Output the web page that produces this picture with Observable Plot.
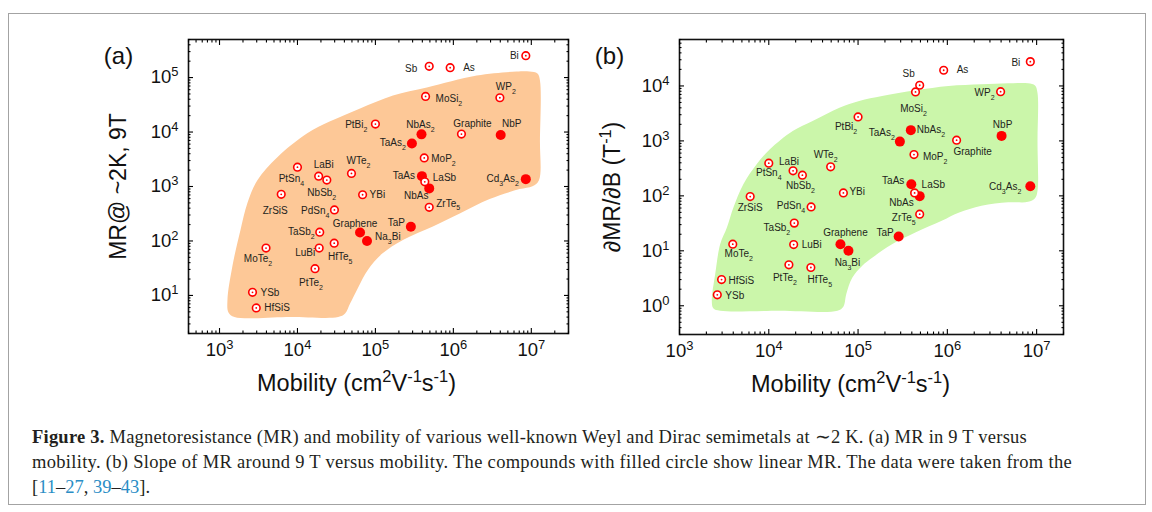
<!DOCTYPE html>
<html><head><meta charset="utf-8">
<script src="https://cdn.jsdelivr.net/npm/d3@7"></script>
<script src="https://cdn.jsdelivr.net/npm/@observablehq/plot@0.6"></script>
<style>
html,body{margin:0;padding:0;background:#fff}
body{width:1152px;height:512px;overflow:hidden;position:relative;font-family:"Liberation Sans",Arial,sans-serif}
#border{position:absolute;left:8px;top:13px;width:1138px;height:492px;box-sizing:border-box;border:1.5px solid #a3a3a3}
#pa{position:absolute;left:88px;top:25px}
#pb{position:absolute;left:578px;top:25px}
#cap{position:absolute;left:32px;top:425px;font-family:"Liberation Serif","Times New Roman",serif;font-size:18.5px;line-height:25px;color:#231f20}
#cap .ln{white-space:nowrap}
#cap .ref{color:#2a8dc5}
</style></head><body>
<div id="border"></div>
<div id="pa"></div>
<div id="pb"></div>
<div id="cap">
<div class="ln"><span data-w="995"><b>Figure 3.</b> Magnetoresistance (MR) and mobility of various well-known Weyl and Dirac semimetals at ∼2 K. (a) MR in 9 T versus</span></div>
<div class="ln"><span data-w="1040">mobility. (b) Slope of MR around 9 T versus mobility. The compounds with filled circle show linear MR. The data were taken from the</span></div>
<div class="ln"><span data-w="118">[<span class="ref">11</span>–<span class="ref">27</span>, <span class="ref">39</span>–<span class="ref">43</span>].</span></div>
</div>
<script>
// ---------------- data ----------------
const compounds = ["Bi","Sb","As","MoSi2","WP2","PtBi2","NbAs2","TaAs2","Graphite","NbP","MoP2","TaAs","LaSb","NbAs","ZrTe5","Cd3As2","TaP","Graphene","Na3Bi","WTe2","LaBi","PtSn4","NbSb2","ZrSiS","YBi","PdSn4","TaSb2","MoTe2","LuBi","HfTe5","PtTe2","YSb","HfSiS"];
const labels = ["Bi","Sb","As","MoSi_{2}","WP_{2}","PtBi_{2}","NbAs_{2}","TaAs_{2}","Graphite","NbP","MoP_{2}","TaAs","LaSb","NbAs","ZrTe_{5}","Cd_{3}As_{2}","TaP","Graphene","Na_{3}Bi","WTe_{2}","LaBi","PtSn_{4}","NbSb_{2}","ZrSiS","YBi","PdSn_{4}","TaSb_{2}","MoTe_{2}","LuBi","HfTe_{5}","PtTe_{2}","YSb","HfSiS"];
const mobility = [8.5e6,4.9e5,9.1e5,4.4e5,3.95e6,1.0e5,3.9e5,2.94e5,1.27e6,4.05e6,4.23e5,3.95e5,4.3e5,4.9e5,4.9e5,8.5e6,2.85e5,6.35e4,7.8e4,4.93e4,1.87e4,1.0e4,2.38e4,6190,6.85e4,2.98e4,1.93e4,3950,1.9e4,2.96e4,1.68e4,2650,2960];
const mr9T = [2.52e5,1.61e5,1.52e5,4.5e4,4.26e4,1.4e4,9070,6140,9190,8810,3350,1550,1220,923,415,1365,183,143,100,1740,1550,2260,1310,718,705,371,145,74,74,91,31,11.4,5.9];
const slopeMR = [2.77e4,1.03e4,1.93e4,7780,7880,2730,1570,971,1030,1233,564,163,113,98.8,46.5,150,18.2,13.2,10,337,285,393,238,97,113,63,31.9,13.2,13,4.97,5.56,1.58,3.0];
const linearMR = [0,0,0,0,0,0,1,1,0,1,0,1,0,1,0,1,1,1,1,0,0,0,0,0,0,0,0,0,0,0,0,0,0];

// shaded guide regions (outline vertices, data units)
const regionA_mobility = [1265,1303,1556,8091,33270,40830,47320,59840,80350,121300,225400,545800,1208000,2917000,7063000,10350000,12530000,12910000,12910000,11990000,9484000,6471000,1991000,457100,167900,63530,26240,13340,5521,3062,2280,1858,1466];
const regionA_mr = [8.38,4.85,4.01,4.01,4.01,4.65,7.08,13.9,29.6,58.1,104.7,184.9,319.9,588.8,895.4,1016,1309,7047,88100,118300,128800,128800,108900,65610,46880,27100,15700,9462,3443,1309,497.7,159.6,35.1];
const regionB_mobility = [2301,2388,2858,13270,58750,68390,73960,86100,111400,143900,239900,443600,865000,1337000,2410000,4808000,8017000,9594000,10230000,10230000,10230000,9594000,8017000,4808000,2410000,1033000,443600,185800,103000,61800,30970,18540,10280,7311,5188,4018,3396,2858,2512];
const regionB_slope = [1.233,0.902,0.811,0.811,0.811,0.959,1.652,3.228,5.333,7.464,13.12,21.68,35.08,49.09,65.77,76.21,77.8,90.16,123.3,1000,7464,10210,11190,11190,10740,10000,8356,6577,5333,4027,2312,1521,706.3,376.7,163.3,61.24,26.55,13.24,3.767];

// ---------------- layout of point labels [anchor, dx, dy] ----------------
const placeA = {Bi:["end",-7,0],Sb:["end",-12,2],As:["start",13,0],MoSi2:["start",10,2],WP2:["middle",6,-11],PtBi2:["end",-8,1],NbAs2:["middle",-1,-10],TaAs2:["end",-6,-1],Graphite:["middle",11,-10],NbP:["middle",11,-11],MoP2:["start",7,1],TaAs:["end",-7,0],LaSb:["start",8,-4],NbAs:["middle",-13,7],ZrTe5:["start",7,-4],Cd3As2:["end",-7,0],TaP:["end",-6,-4],Graphene:["middle",-5,-9],Na3Bi:["start",8,-4],WTe2:["middle",7,-13],LaBi:["middle",5,-11],PtSn4:["middle",-6,12],NbSb2:["middle",-5,13],ZrSiS:["middle",-6,16],YBi:["start",7,0],PdSn4:["end",-5,1],TaSb2:["end",-5,0],MoTe2:["middle",-8,11],LuBi:["end",-4,5],HfTe5:["middle",6,14],PtTe2:["middle",-4,14],YSb:["start",8,0],HfSiS:["start",8,0]};
const placeB = {Bi:["end",-10,1],As:["start",13,0],Sb:["middle",-11,-11],MoSi2:["middle",-2,17],WP2:["end",-6,1],NbAs2:["start",6,0],TaAs2:["end",-5,-9],Graphite:["middle",16,12],NbP:["middle",1,-11],MoP2:["start",9,2],TaAs:["end",-7,-3],LaSb:["start",7,-8],NbAs:["end",-6,7],ZrTe5:["end",-4,4],Cd3As2:["end",-9,1],TaP:["end",-5,-4],PtBi2:["middle",-12,10],PtSn4:["middle",0,10],LaBi:["middle",-4,-9],NbSb2:["middle",-2,11],WTe2:["middle",-5,-12],YBi:["start",6,-1],ZrSiS:["middle",0,11],PdSn4:["end",-6,-1],TaSb2:["end",-4,5],MoTe2:["middle",6,10],LuBi:["start",8,0],PtTe2:["middle",-4,13],HfTe5:["middle",9,12],HfSiS:["start",7,1],YSb:["start",8,1],Graphene:["middle",5,-11],Na3Bi:["middle",-1,12]};

function richText(root) {
  root.querySelectorAll("text").forEach(t => {
    const targets = t.querySelector("tspan") ? [...t.querySelectorAll("tspan")] : [t];
    for (const n of targets) {
      const s = n.textContent;
      if (!/[\^_]\{/.test(s)) continue;
      while (n.firstChild) n.removeChild(n.firstChild);
      const re = /([\^_])\{([^}]*)\}/g; let last = 0, m;
      while ((m = re.exec(s))) {
        if (m.index > last) n.appendChild(document.createTextNode(s.slice(last, m.index)));
        const sp = document.createElementNS("http://www.w3.org/2000/svg", "tspan");
        sp.setAttribute("baseline-shift", m[1] === "^" ? "super" : "sub");
        sp.style.fontSize = "0.7em";
        sp.textContent = m[2];
        n.appendChild(sp);
        last = re.lastIndex;
      }
      if (last < s.length) n.appendChild(document.createTextNode(s.slice(last)));
    }
  });
}

function panel({values, regionX, regionY, regionFill, xDomain, yDomain, place, width, marginLeft, marginRight, marginTop, marginBottom, height, tag, yLabel, yLabelDx, xLabelDx}) {
  const rows = compounds.map((c, i) => ({name: c, label: labels[i], x: mobility[i], y: values[i], linear: !!linearMR[i]}));
  const region = regionX.map((x, i) => ({x, y: regionY[i]}));
  const isMajor = v => Math.abs(Math.log10(v) - Math.round(Math.log10(v))) < 1e-9;
  const xAll = d3.scaleLog().domain(xDomain).ticks().filter(v => v >= xDomain[0] && v <= xDomain[1]);
  const yAll = d3.scaleLog().domain(yDomain).ticks().filter(v => v >= yDomain[0] && v <= yDomain[1]);
  const xMaj = xAll.filter(isMajor), xMin = xAll.filter(v => !isMajor(v));
  const yMaj = yAll.filter(isMajor), yMin = yAll.filter(v => !isMajor(v));
  const blank = () => "";
  const fmt = v => `10^{${Math.round(Math.log10(v))}}`;
  const tickOpts = {tickFormat: blank, label: null, stroke: "#000", strokeWidth: 1.1};
  const marks = [
    Plot.line(region, {x: "x", y: "y", curve: "catmull-rom-closed", fill: regionFill, stroke: "none"}),
    Plot.frame({stroke: "#111", strokeWidth: 1.6}),
  ];
  for (const anchor of ["bottom", "top"]) {
    marks.push(Plot.axisX({anchor, ticks: xMaj, tickSize: -5, ...tickOpts}));
    marks.push(Plot.axisX({anchor, ticks: xMin, tickSize: -2.5, ...tickOpts}));
  }
  for (const anchor of ["left", "right"]) {
    marks.push(Plot.axisY({anchor, ticks: yMaj, tickSize: -5, ...tickOpts}));
    marks.push(Plot.axisY({anchor, ticks: yMin, tickSize: -2.5, ...tickOpts}));
  }
  marks.push(Plot.axisX({anchor: "bottom", ticks: xMaj, tickSize: 0, tickPadding: 9, tickFormat: fmt, label: null, fontSize: 18.5}));
  marks.push(Plot.axisY({anchor: "left", ticks: yMaj, tickSize: 0, tickPadding: 10, tickFormat: fmt, label: null, fontSize: 18.5}));
  marks.push(Plot.dot(rows.filter(d => d.linear), {x: "x", y: "y", r: 5, fill: "#ff0000", stroke: "none"}));
  marks.push(Plot.dot(rows.filter(d => !d.linear), {x: "x", y: "y", r: 3.8, fill: "#fff", stroke: "#ff0000", strokeWidth: 1.6}));
  marks.push(Plot.dot(rows.filter(d => !d.linear), {x: "x", y: "y", r: 0.9, fill: "#ff0000", stroke: "none"}));
  for (const d of rows) {
    const [anchor, dx, dy] = place[d.name];
    marks.push(Plot.text([d], {x: "x", y: "y", text: "label", textAnchor: anchor, dx, dy, fontSize: 10, fill: "#231f20"}));
  }
  const center = {textAnchor: "middle", lineAnchor: "middle", fill: "#111"};
  marks.push(Plot.text([tag], {text: d => d, frameAnchor: "top-left", dx: -70, dy: 17, fontSize: 24, ...center}));
  marks.push(Plot.text([yLabel], {text: d => d, frameAnchor: "left", dx: yLabelDx, rotate: -90, fontSize: 23, ...center}));
  marks.push(Plot.text(["Mobility (cm^{2}V^{-1}s^{-1})"], {text: d => d, frameAnchor: "bottom", dx: xLabelDx, dy: 50, fontSize: 23.5, ...center}));
  const svg = Plot.plot({
    width, height, marginLeft, marginRight, marginTop, marginBottom,
    x: {type: "log", domain: xDomain},
    y: {type: "log", domain: yDomain},
    style: {fontFamily: "'Liberation Sans', Arial, sans-serif", fontSize: "18px", color: "#111", background: "transparent", overflow: "visible"},
    marks
  });
  richText(svg);
  return svg;
}

document.getElementById("pa").append(panel({
  values: mr9T, regionX: regionA_mobility, regionY: regionA_mr, regionFill: "#fdc897",
  xDomain: [400, 3e7], yDomain: [2, 5e5], place: placeA,
  width: 490, height: 380, marginLeft: 100, marginRight: 10, marginTop: 14, marginBottom: 72,
  tag: "(a)", yLabel: "MR@ ~2K, 9T", yLabelDx: -70, xLabelDx: -22
}));
document.getElementById("pb").append(panel({
  values: slopeMR, regionX: regionB_mobility, regionY: regionB_slope, regionFill: "#cbf6aa",
  xDomain: [1e3, 2e7], yDomain: [0.3, 7e4], place: placeB,
  width: 495, height: 380, marginLeft: 101, marginRight: 10, marginTop: 14, marginBottom: 71,
  tag: "(b)", yLabel: "∂MR/∂B (T^{-1})", yLabelDx: -67, xLabelDx: -21
}));

// fit each caption line to the width it takes in the reference
function fitCaption() {
  document.querySelectorAll("#cap .ln > span").forEach(s => {
    s.style.letterSpacing = "0px";
    const w = s.getBoundingClientRect().width;
    const n = s.textContent.length;
    const target = +s.dataset.w;
    s.style.letterSpacing = ((target - w) / n) + "px";
  });
}
fitCaption();
if (document.fonts && document.fonts.ready) document.fonts.ready.then(fitCaption);
</script>
</body></html>
